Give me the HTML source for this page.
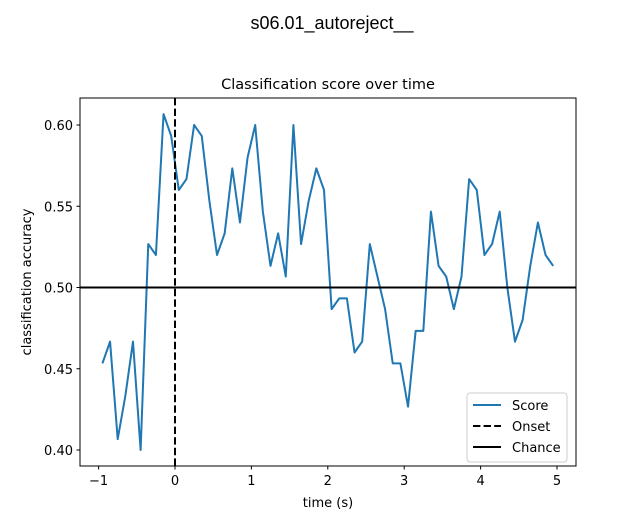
<!DOCTYPE html>
<html><head><meta charset="utf-8"><style>
body{margin:0;background:#fff;}
svg{display:block;font-family:"DejaVu Sans","Liberation Sans",sans-serif;}
</style></head><body>
<svg id="chart" width="640" height="520">
<text x="332" y="29" font-size="18" text-anchor="middle" font-family="Liberation Sans, sans-serif">s06.01_autoreject__</text>
<text x="328" y="89" font-size="14.5" text-anchor="middle">Classification score over time</text>
<g id="plot"></g>
<rect x="80" y="98" width="496" height="368" fill="none" stroke="#000" stroke-width="1"/>
<text x="328" y="507" font-size="13" text-anchor="middle">time (s)</text>
<text transform="translate(31,282) rotate(-90)" font-size="13" text-anchor="middle">classification accuracy</text>
<g>
<rect x="467" y="393" width="100" height="69" rx="3" fill="#fff" fill-opacity="0.8" stroke="#ccc"/>
<line x1="473" y1="405" x2="501" y2="405" stroke="#1f77b4" stroke-width="2"/>
<text x="512" y="410" font-size="13">Score</text>
<line x1="473" y1="426" x2="501" y2="426" stroke="#000" stroke-width="2" stroke-dasharray="7.4,3.2"/>
<text x="512" y="431" font-size="13">Onset</text>
<line x1="473" y1="447" x2="501" y2="447" stroke="#000" stroke-width="2"/>
<text x="512" y="452" font-size="13">Chance</text>
</g>
</svg>
<script>
const times=[];
const tStart=-0.95, tStep=0.1;
const scores=[0.4533,0.4667,0.4067,0.4333,0.4667,0.40,0.5267,0.52,0.6067,0.5933,
0.56,0.5667,0.60,0.5933,0.5533,0.52,0.5333,0.5733,0.54,0.58,
0.60,0.5467,0.5133,0.5333,0.5067,0.60,0.5267,0.5533,0.5733,0.56,
0.4867,0.4933,0.4933,0.46,0.4667,0.5267,0.5067,0.4867,0.4533,0.4533,
0.4267,0.4733,0.4733,0.5467,0.5133,0.5067,0.4867,0.5067,0.5667,0.56,
0.52,0.5267,0.5467,0.50,0.4667,0.48,0.5133,0.54,0.52,0.5133];
for(let i=0;i<scores.length;i++)times.push(+(tStart+i*tStep).toFixed(2));
const xTicks=[-1,0,1,2,3,4,5];
const yTicks=[0.40,0.45,0.50,0.55,0.60];
const chance=0.5, onset=0;
const NS='http://www.w3.org/2000/svg';
const X=t=>175+(t-0)*76.4;
const Y=v=>125+(0.6-v)*1625;
const g=document.getElementById('plot');
function mk(tag,attrs){const e=document.createElementNS(NS,tag);for(const k in attrs)e.setAttribute(k,attrs[k]);g.appendChild(e);return e;}
xTicks.forEach(t=>{
 const l=mk('line',{x1:X(t),x2:X(t),y1:466,y2:469.5,stroke:'#000'});
 
 
 const tx=mk('text',{x:X(t),y:485,'font-size':13,'text-anchor':'middle'});
 
 
 tx.textContent=(t<0?'\u2212'+(-t):t);
});
yTicks.forEach(v=>{
 const l=mk('line',{x1:76.5,x2:80,y1:Y(v),y2:Y(v),stroke:'#000'});
 
 
 const tx=mk('text',{x:73,y:Y(v)+5,'font-size':13,'text-anchor':'end'});
 
 
 tx.textContent=v.toFixed(2);
});
const p=mk('polyline',{points:times.map((t,i)=>X(t)+','+Y(scores[i])).join(' '),fill:'none',stroke:'#1f77b4','stroke-width':2,'stroke-linejoin':'round'});


const c=mk('line',{x1:80,x2:576,y1:Y(chance),y2:Y(chance),stroke:'#000','stroke-width':2});


const o=mk('line',{x1:X(onset),x2:X(onset),y1:98,y2:466,stroke:'#000','stroke-width':2,'stroke-dasharray':'7.4,3.2'});


</script>
</body></html>
